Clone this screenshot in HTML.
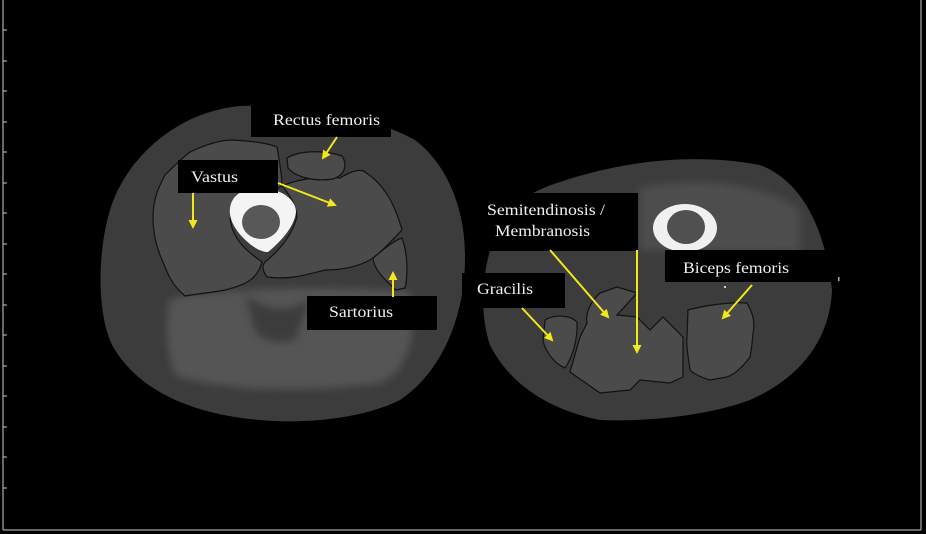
<!DOCTYPE html>
<html><head><style>
html,body{margin:0;padding:0;background:#000;}
svg{display:block;}
text{font-family:"Liberation Serif",serif;fill:#f0f0f0;font-size:16px;}
</style></head><body>
<svg width="926" height="534" viewBox="0 0 926 534">
<defs>
<marker id="ah" markerWidth="9" markerHeight="9" refX="7" refY="4.5" orient="auto" markerUnits="userSpaceOnUse"><path d="M0,0 L9,4.5 L0,9 z" fill="#f2e81a"/></marker>
<filter id="bl"><feGaussianBlur stdDeviation="4"/></filter>
</defs>
<rect width="926" height="534" fill="#000"/>
<line x1="3" y1="0" x2="3" y2="530" stroke="#ccc" stroke-width="1"/>
<line x1="3" y1="530" x2="921" y2="530" stroke="#ccc" stroke-width="1"/>
<line x1="921" y1="0" x2="921" y2="530" stroke="#ccc" stroke-width="1"/>
<g stroke="#ccc" stroke-width="1">
<line x1="3" y1="30" x2="7" y2="30"/><line x1="3" y1="61" x2="7" y2="61"/><line x1="3" y1="91" x2="7" y2="91"/><line x1="3" y1="122" x2="7" y2="122"/><line x1="3" y1="152" x2="7" y2="152"/><line x1="3" y1="183" x2="7" y2="183"/><line x1="3" y1="213" x2="7" y2="213"/><line x1="3" y1="244" x2="7" y2="244"/><line x1="3" y1="274" x2="7" y2="274"/><line x1="3" y1="305" x2="7" y2="305"/><line x1="3" y1="335" x2="7" y2="335"/><line x1="3" y1="366" x2="7" y2="366"/><line x1="3" y1="396" x2="7" y2="396"/><line x1="3" y1="427" x2="7" y2="427"/><line x1="3" y1="457" x2="7" y2="457"/><line x1="3" y1="488" x2="7" y2="488"/>
</g>
<!-- left thigh -->
<path d="M240,106 C300,104 370,115 415,140 C448,165 465,210 465,255 C466,310 445,370 400,400 C360,420 300,424 260,420 C200,415 140,395 112,345 C96,310 98,250 110,210 C125,160 175,112 240,106 z" fill="#3c3c3c"/>
<path d="M170,300 C200,288 330,285 410,292 C418,330 410,370 380,383 C320,392 220,392 175,375 C165,345 165,320 170,300 z" fill="#545454" filter="url(#bl)"/>
<path d="M245,295 C265,310 290,315 310,298 L295,340 C280,345 260,340 255,330 z" fill="#333" opacity="0.7" filter="url(#bl)"/>
<g fill="#4b4b4b" stroke="#111" stroke-width="1.2">
<path d="M190,152 C205,145 220,140 232,140 C250,141 268,143 277,147 C280,165 282,175 282,185 L270,195 C250,200 236,210 230,218 C232,240 248,252 262,262 C257,280 245,285 225,290 C210,293 195,294 185,296 C172,285 168,275 163,262 C155,245 153,230 153,215 C154,195 160,185 165,175 C175,165 182,158 190,152 z"/>
<path d="M282,186 C300,178 325,176 340,178 C350,172 360,168 365,172 C385,185 395,205 402,230 C392,240 382,252 370,260 C355,268 340,270 325,270 C305,275 290,280 267,277 C262,270 262,266 265,262 C280,250 292,235 297,217 C296,205 290,195 282,186 z"/>
<path d="M287,158 C300,150 325,150 342,156 C348,165 345,175 333,179 C315,182 295,177 288,168 z"/>
<path d="M373,258 C385,248 395,240 402,238 C408,255 408,275 405,288 L396,290 C385,280 374,270 373,258 z"/>
</g>
<path d="M230,208 C232,192 248,188 262,188 C282,189 296,200 296,212 C294,228 280,242 268,252 C258,252 246,242 238,232 C232,224 229,216 230,208 z" fill="#f4f4f4"/>
<ellipse cx="261" cy="222" rx="19" ry="17" fill="#585858"/>
<!-- right thigh -->
<path d="M560,182 C620,162 690,152 760,165 C800,180 825,225 832,290 C830,340 800,378 750,400 C710,415 650,422 600,420 C550,410 510,385 490,345 C478,310 482,260 500,225 C515,200 535,190 560,182 z" fill="#3c3c3c"/>
<path d="M640,188 C690,178 760,180 800,210 L800,252 C760,252 690,252 640,250 z" fill="#4d4d4d" filter="url(#bl)"/>
<g fill="#4b4b4b" stroke="#111" stroke-width="1.2">
<path d="M545,320 C555,314 570,315 577,322 C578,340 572,358 565,368 C555,364 545,352 543,340 z"/>
<path d="M587,323 C585,312 592,300 600,293 L617,287 L637,293 L617,315 L637,317 L650,330 L663,317 L683,337 L683,377 L670,383 L640,380 L630,390 L600,393 L570,372 L580,337 z"/>
<path d="M688,310 C710,304 735,302 747,303 C754,315 755,325 753,333 C752,345 751,352 750,357 C742,368 735,374 727,377 L710,380 C700,377 694,374 690,370 C688,355 686,345 687,337 z"/>
</g>
<ellipse cx="685" cy="228" rx="32" ry="24" fill="#f0f0f0"/>
<ellipse cx="686" cy="227" rx="19" ry="17" fill="#505050"/>
<g fill="#000">
<rect x="251" y="100" width="140" height="37"/>
<rect x="178" y="160" width="100" height="33"/>
<rect x="307" y="296" width="130" height="34"/>
<rect x="465" y="193" width="173" height="58"/>
<rect x="462" y="273" width="103" height="35"/>
<rect x="665" y="250" width="170" height="32"/>
</g>
<text x="273" y="125" textLength="107" lengthAdjust="spacingAndGlyphs">Rectus femoris</text>
<text x="191" y="182" textLength="47" lengthAdjust="spacingAndGlyphs">Vastus</text>
<text x="329" y="317" textLength="64" lengthAdjust="spacingAndGlyphs">Sartorius</text>
<text x="487" y="215" textLength="118" lengthAdjust="spacingAndGlyphs">Semitendinosis /</text>
<text x="495" y="236" textLength="95" lengthAdjust="spacingAndGlyphs">Membranosis</text>
<text x="477" y="294" textLength="56" lengthAdjust="spacingAndGlyphs">Gracilis</text>
<text x="683" y="273" textLength="106" lengthAdjust="spacingAndGlyphs">Biceps femoris</text>
<g stroke="#f2e81a" stroke-width="2" fill="none" marker-end="url(#ah)">
<line x1="337" y1="137" x2="323" y2="158"/>
<line x1="193" y1="193" x2="193" y2="227"/>
<line x1="278" y1="183" x2="335" y2="205"/>
<line x1="393" y1="297" x2="393" y2="273"/>
<line x1="550" y1="250" x2="608" y2="317"/>
<line x1="637" y1="250" x2="637" y2="352"/>
<line x1="522" y1="308" x2="552" y2="340"/>
<line x1="752" y1="285" x2="723" y2="318"/>
</g>
<circle cx="725" cy="287" r="1" fill="#fff"/>
<rect x="838" y="277" width="1.5" height="4" fill="#aaa"/>
</svg>
</body></html>
